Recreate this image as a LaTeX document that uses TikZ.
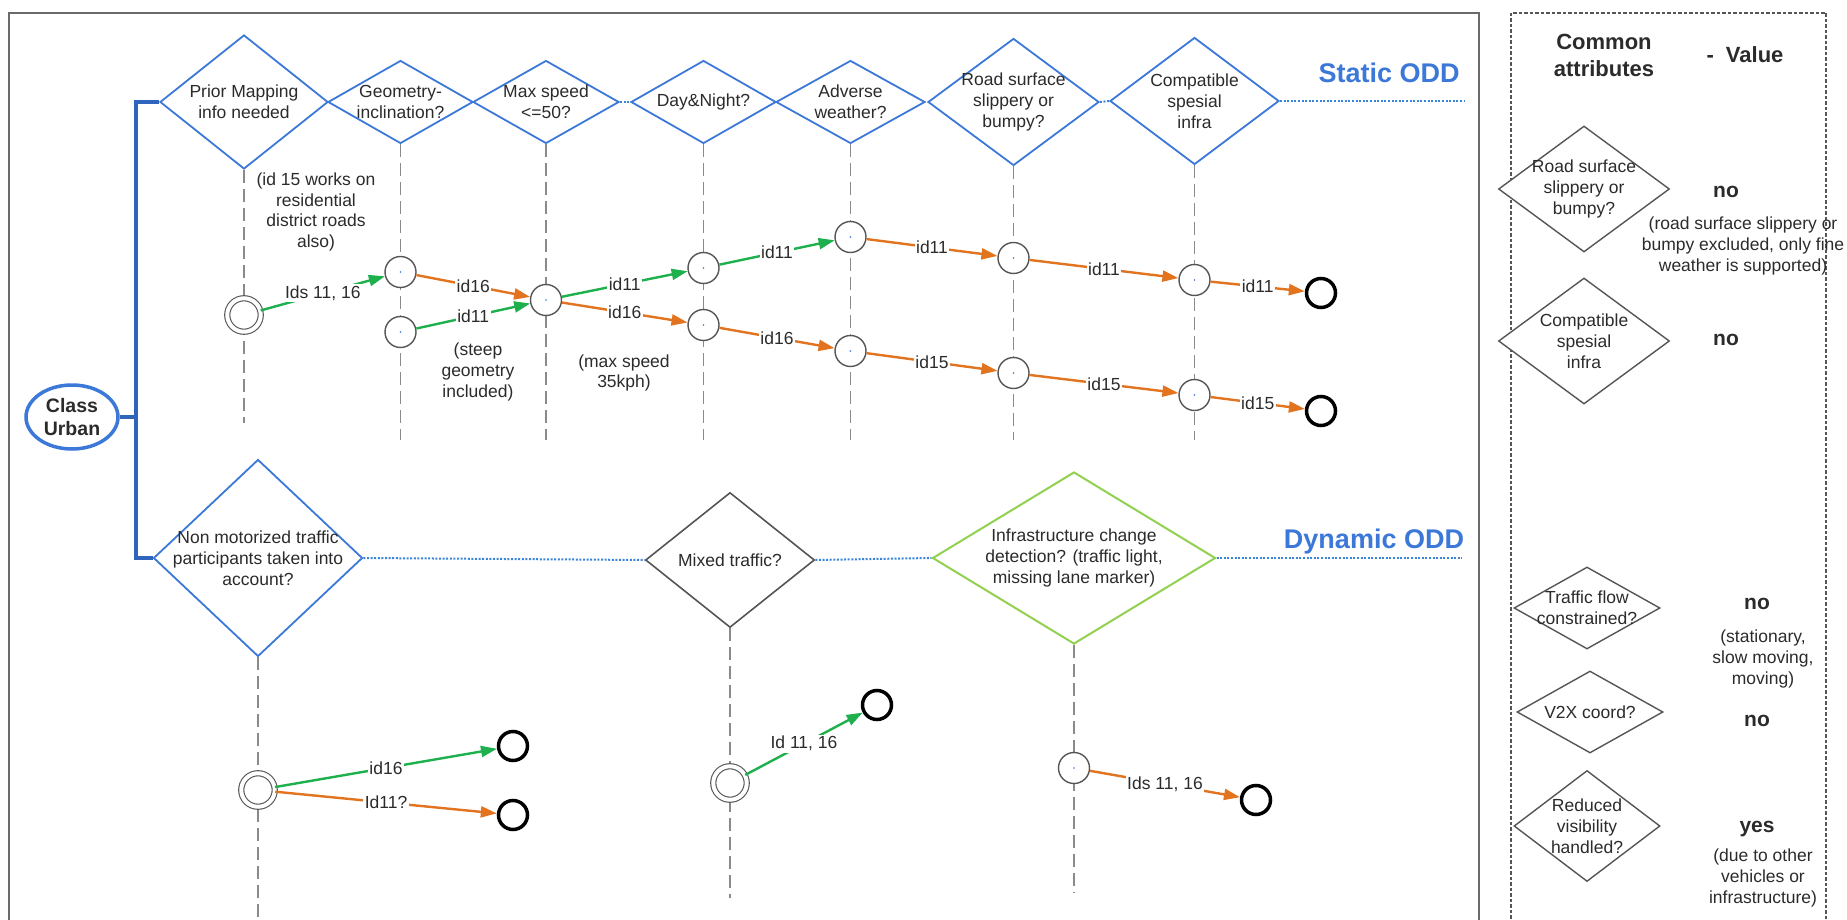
\documentclass[tikz,border=0pt]{standalone}
\usepackage{fontspec}
\setmainfont{Liberation Sans}
\usetikzlibrary{shapes.geometric,arrows.meta}
\pgfdeclarelayer{bg}
\pgfsetlayers{bg,main}
\definecolor{odblue}{HTML}{3C78D8}
\definecolor{brblue}{HTML}{2F65BD}
\definecolor{dotblue}{HTML}{3A84DA}
\definecolor{arrgreen}{HTML}{1EB04C}
\definecolor{arrorange}{HTML}{E2731F}
\definecolor{ltgreen}{HTML}{92D050}
\definecolor{dgray}{HTML}{555555}
\definecolor{vgray}{HTML}{8A8A8A}
\definecolor{fgray}{HTML}{6B6B6B}
\definecolor{txtc}{HTML}{2B2B2B}
\newcommand\myfs[2]{\fontsize{#1}{#2}\selectfont}
\tikzset{
 txt/.style={font=\myfs{17.5}{20.8}, text=txtc, align=center, inner sep=0pt},
 bdia/.style={diamond, draw=odblue, line width=1.8pt, fill=white, inner sep=0pt},
 gdia/.style={diamond, draw=dgray, line width=1.6pt, fill=white, inner sep=0pt},
 ldia/.style={diamond, draw=ltgreen, line width=2pt, fill=white, inner sep=0pt},
 st/.style={circle, draw=dgray, line width=1.4pt, fill=white, minimum size=31pt, inner sep=0pt,
   path picture={\fill[odblue] (path picture bounding box.center) circle (0.9pt);}},
 stt/.style={circle, draw=dgray, line width=1.1pt, double=white, double distance=4pt, fill=white, minimum size=33.5pt, inner sep=0pt},
 fin/.style={circle, draw=black, line width=3.5pt, fill=white, minimum size=29pt, inner sep=0pt},
 garr/.style={draw=arrgreen, line width=2.4pt, -{Triangle[length=16pt,width=11pt]}},
 oarr/.style={draw=arrorange, line width=2.4pt, -{Triangle[length=16pt,width=11pt]}},
 lab/.style={txt, fill=white, inner sep=1.5pt},
 vline/.style={draw=vgray, line width=1.2pt, dash pattern=on 13pt off 6pt},
 dline/.style={draw=dotblue, line width=2pt, dash pattern=on 2pt off 1.6pt},
 brk/.style={draw=brblue, line width=4pt},
 hd/.style={font=\bfseries\myfs{27}{30}, text=odblue, inner sep=0pt},
 val/.style={font=\bfseries\myfs{21}{24}, text=txtc, inner sep=0pt},
 ttl/.style={font=\bfseries\myfs{22}{27}, text=txtc, align=center, inner sep=0pt},
}
\begin{document}
\begin{tikzpicture}[x=1pt,y=-1pt]
\useasboundingbox (0,0) rectangle (1847,920);
% frames
\draw[draw=fgray, line width=2.4pt] (9,935) -- (9,13) -- (1479,13) -- (1479,935);
\draw[draw=dgray, line width=1.6pt, dash pattern=on 3.5pt off 2pt] (1511,935) -- (1511,13) -- (1826,13) -- (1826,935);

% class node
\node[ellipse, draw=odblue, line width=3.5pt, fill=white, minimum width=92pt, minimum height=64pt, inner sep=0pt,
  font=\bfseries\myfs{19.5}{23}, text=txtc, align=center] (cu) at (72,417) {Class\\Urban};
\coordinate (brx) at (136,417);

% static diamonds
\node[bdia, minimum width=168pt, minimum height=134pt] (d1) at (244,102) {};
\node[txt] (t1) at (d1) {Prior Mapping\\info needed};
\node[bdia, minimum width=145pt, minimum height=83pt] (d2) at (400.5,102) {};
\node[txt] (t2) at (d2) {Geometry-\\inclination?};
\node[bdia, minimum width=146pt, minimum height=83pt] (d3) at (546,102) {};
\node[txt] (t3) at (d3) {Max speed\\<=50?};
\node[bdia, minimum width=145pt, minimum height=83pt] (d4) at (703.5,102) {};
\node[txt] (t4) at (d4) {Day\&Night?};
\node[bdia, minimum width=149pt, minimum height=83pt] (d5) at (850.5,102) {};
\node[txt] (t5) at (d5) {Adverse\\weather?};
\node[bdia, minimum width=171pt, minimum height=127pt] (d6) at (1013.5,102) {};
\node[txt] (t6) at (d6) {Road surface\\slippery or\\bumpy?};
\node[bdia, minimum width=169pt, minimum height=127pt] (d7) at (1194.5,101) {};
\node[txt] (t7) at (d7) {Compatible\\spesial\\infra};
\coordinate (se) at (1464,101);

\coordinate (b1) at (244,423);
\coordinate (b2) at (400.5,440);
\coordinate (b3) at (546,440);
\coordinate (b4) at (703.5,440);
\coordinate (b5) at (850.5,440);
\coordinate (b6) at (1013.5,440);
\coordinate (b7) at (1194.5,440);

% static states
\node[stt] (s0) at (244,315) {};
\node[st] (g1) at (400.5,272) {};
\node[st] (g2) at (400.5,332) {};
\node[st] (m1) at (546,300) {};
\node[st] (n1) at (703.5,268) {};
\node[st] (n2) at (703.5,325) {};
\node[st] (a1) at (850.5,237) {};
\node[st] (a2) at (850.5,351) {};
\node[st] (r1) at (1013.5,258) {};
\node[st] (r2) at (1013.5,373) {};
\node[st] (c1) at (1194.5,280) {};
\node[st] (c2) at (1194.5,395) {};
\node[fin] (e1) at (1321,293) {};
\node[fin] (e2) at (1321,411) {};

\node[txt] (n15) at (316,212) {(id 15 works on\\residential\\district roads\\also)};
\node[txt] (nsteep) at (478,372) {(steep\\geometry\\included)};
\node[txt] (nmax) at (624,373) {(max speed\\35kph)};

\node[hd] (hs) at (1389,73) {Static ODD};
\node[hd] (hdy) at (1374,542) {Dynamic ODD};

% dynamic diamonds
\node[bdia, minimum width=209pt, minimum height=197pt] (nm) at (258,558) {};
\node[txt] (tnm) at (nm) {Non motorized traffic\\participants taken into\\account?};
\node[gdia, minimum width=169pt, minimum height=135pt] (mx) at (730,560) {};
\node[txt] (tmx) at (mx) {Mixed traffic?};
\node[ldia, minimum width=283pt, minimum height=172pt] (inf) at (1074,558) {};
\node[txt] (tinf) at (inf) {Infrastructure change\\detection? (traffic light,\\missing lane marker)};
\coordinate (de) at (1462,558);
\coordinate (b8) at (258,930);
\coordinate (b9) at (730,898);
\coordinate (b10) at (1074,893);

\node[stt] (s1) at (258,790) {};
\node[fin] (e3) at (513,746) {};
\node[fin] (e4) at (513,815) {};
\node[stt] (s2) at (730,783) {};
\node[fin] (e5) at (877,705) {};
\node[st] (s3) at (1074,768) {};
\node[fin] (e6) at (1256,800) {};

% common attributes box
\node[ttl] (ca) at (1604,55) {Common\\attributes};
\node[ttl] (cv) at (1745,55) {-\hspace{0.55em}Value};
\node[gdia, line width=1.4pt, minimum width=171pt, minimum height=126pt] (q1) at (1584,189) {};
\node[txt] (tq1) at (q1) {Road surface\\slippery or\\bumpy?};
\node[gdia, line width=1.4pt, minimum width=171pt, minimum height=126pt] (q2) at (1584,341) {};
\node[txt] (tq2) at (q2) {Compatible\\spesial\\infra};
\node[gdia, line width=1.4pt, minimum width=146pt, minimum height=82pt] (q3) at (1587,608) {};
\node[txt] (tq3) at (q3) {Traffic flow\\constrained?};
\node[gdia, line width=1.4pt, minimum width=146pt, minimum height=82pt] (q4) at (1590,712) {};
\node[txt] (tq4) at (q4) {V2X coord?};
\node[gdia, line width=1.4pt, minimum width=146pt, minimum height=111pt] (q5) at (1587,826) {};
\node[txt] (tq5) at (q5) {Reduced\\visibility\\handled?};

\node[val] (v1) at (1726,192) {no};
\node[txt] (v1t) at (1743,246) {(road surface slippery or\\bumpy excluded, only fine\\weather is supported)};
\node[val] (v2) at (1726,340) {no};
\node[val] (v3) at (1757,604) {no};
\node[txt] (v3t) at (1763,659) {(stationary,\\slow moving,\\moving)};
\node[val] (v4) at (1757,721) {no};
\node[val] (v5) at (1757,829) {yes};
\node[txt] (v5t) at (1763,878) {(due to other\\vehicles or\\infrastructure)};

% arrows
\draw[garr] (s0) -- node[lab] (l1) {Ids 11, 16} (g1);
\draw[oarr] (g1) -- node[lab] (l2) {id16} (m1);
\draw[garr] (g2) -- node[lab] (l3) {id11} (m1);
\draw[garr] (m1) -- node[lab] (l4) {id11} (n1);
\draw[oarr] (m1) -- node[lab] (l5) {id16} (n2);
\draw[garr] (n1) -- node[lab] (l6) {id11} (a1);
\draw[oarr] (n2) -- node[lab] (l7) {id16} (a2);
\draw[oarr] (a1) -- node[lab] (l8) {id11} (r1);
\draw[oarr] (a2) -- node[lab] (l9) {id15} (r2);
\draw[oarr] (r1) -- node[lab] (l10) {id11} (c1);
\draw[oarr] (r2) -- node[lab] (l11) {id15} (c2);
\draw[oarr] (c1) -- node[lab] (l12) {id11} (e1);
\draw[oarr] (c2) -- node[lab] (l13) {id15} (e2);
\draw[garr] (s1) -- node[lab] (l14) {id16} (e3);
\draw[oarr] (s1) -- node[lab] (l15) {Id11?} (e4);
\draw[garr] (s2) -- node[lab] (l16) {Id 11, 16} (e5);
\draw[oarr] (s3) -- node[lab] (l17) {Ids 11, 16} (e6);

\begin{pgfonlayer}{bg}
\draw[vline] (d1.south) -- (b1);
\draw[vline] (d2.south) -- (b2);
\draw[vline] (d3.south) -- (b3);
\draw[vline] (d4.south) -- (b4);
\draw[vline] (d5.south) -- (b5);
\draw[vline] (d6.south) -- (b6);
\draw[vline] (d7.south) -- (b7);
\draw[vline] (nm.south) -- (b8);
\draw[vline] (mx.south) -- (b9);
\draw[vline] (inf.south) -- (b10);
\draw[dline] (d3.east) -- (d4.west);
\draw[dline] (d6.east) -- (d7.west);
\draw[dline] (d7.east) -- (se);
\draw[dline] (nm.east) -- (mx.west);
\draw[dline] (mx.east) -- (inf.west);
\draw[dline] (inf.east) -- (de);
\draw[brk] (d1.west) -| (brx) |- (nm.west);
\draw[brk] (cu.east) -- (brx);
\end{pgfonlayer}
\end{tikzpicture}
\end{document}
